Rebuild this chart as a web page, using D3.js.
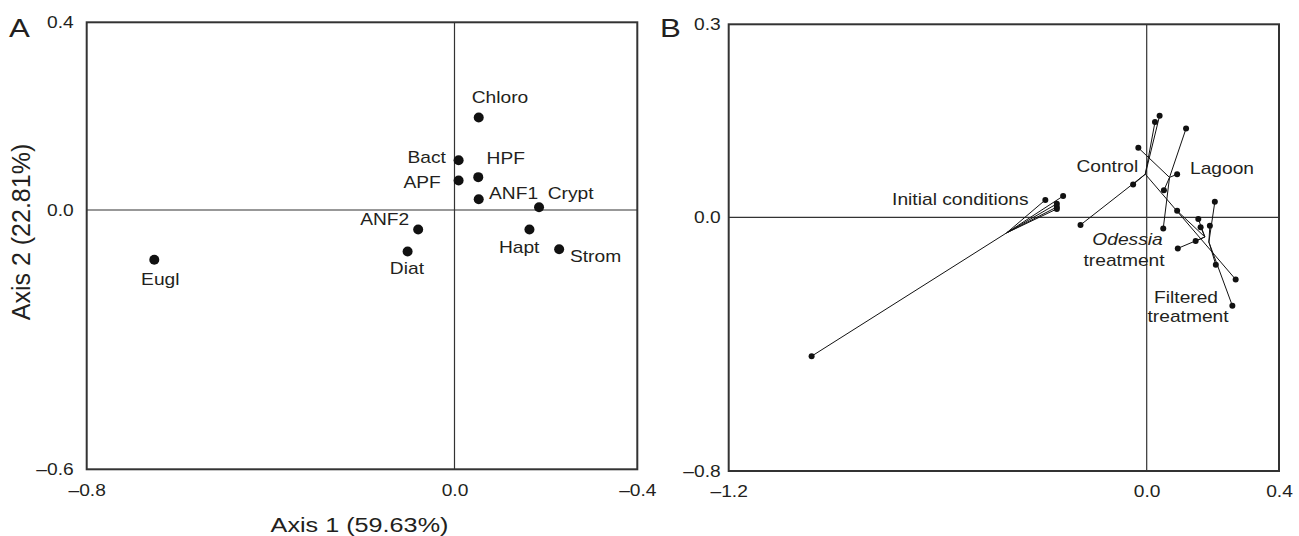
<!DOCTYPE html>
<html>
<head>
<meta charset="utf-8">
<script src="https://cdn.jsdelivr.net/npm/d3@7"></script>
<style>
html, body { margin: 0; padding: 0; background: #fff; }
svg { display: block; font-family: "Liberation Sans", Arial, Helvetica, sans-serif; }
</style>
</head>
<body>
<svg id="chart" width="1299" height="536"></svg>
<script>
// ---- panel A : taxa scores
const taxaA = ["Chloro", "Bact", "HPF", "APF", "ANF1", "Crypt", "ANF2", "Diat", "Hapt", "Strom", "Eugl"];
const axis1A = [0.053, 0.009, 0.052, 0.009, 0.053, 0.185, -0.079, -0.102, 0.164, 0.229, -0.653];
const axis2A = [0.197, 0.106, 0.070, 0.063, 0.023, 0.006, -0.045, -0.096, -0.045, -0.091, -0.115];
const xTicksA = [-0.8, 0, 0.4];
const xTickLabelsA = ["–0.8", "0.0", "–0.4"];
const yTicksA = [-0.6, 0, 0.4];
const yTickLabelsA = ["–0.6", "0.0", "0.4"];
const xTitleA = "Axis 1 (59.63%)";
const yTitleA = "Axis 2 (22.81%)";

// ---- panel B : samples, one spider per treatment (centroid + replicates)
const groupsB = ["Initial conditions", "Control", "Lagoon", "Odessia", "Filtered"];
const centroidX = [-0.402, -0.004, 0.069, 0.176, 0.188];
const centroidY = [-0.049, 0.067, 0.062, -0.062, -0.078];
const sampleX = [
    [-0.962, -0.291, -0.240, -0.258, -0.258, -0.258],
    [0.039, 0.025, -0.039, -0.190, 0.269],
    [0.119, 0.092, -0.024, 0.052, 0.050],
    [0.094, 0.148, 0.092, 0.156, 0.163],
    [0.206, 0.191, 0.209, 0.259]
];
const sampleY = [
    [-0.438, 0.027, 0.033, 0.021, 0.016, 0.013],
    [0.158, 0.148, 0.051, -0.024, -0.196],
    [0.138, 0.067, 0.108, 0.042, -0.035],
    [-0.098, -0.075, 0.010, -0.005, -0.031],
    [0.024, -0.027, -0.150, -0.279]
];
const xTicksB = [-1.2, 0, 0.4];
const xTickLabelsB = ["–1.2", "0.0", "0.4"];
const yTicksB = [-0.8, 0, 0.3];
const yTickLabelsB = ["–0.8", "0.0", "0.3"];

const INK = "#231f20";
const SX = 1.2; // lettering in the figure is drawn a bit wide

const svg = d3.select("#chart");

// the printed axes are not evenly spaced on both sides of zero, so piecewise scales
const xA = d3.scaleLinear().domain([-0.8, 0, 0.4]).range([86.7, 454.5, 637.3]);
const yA = d3.scaleLinear().domain([-0.6, 0, 0.4]).range([469.3, 210, 22.3]);
const xB = d3.scaleLinear().domain([-1.2, 0, 0.4]).range([728.7, 1146.7, 1279]);
const yB = d3.scaleLinear().domain([-0.8, 0, 0.3]).range([471, 217.3, 24.3]);

function stretched(sel, x, y) {
    return sel.attr("transform", `translate(${x},${y}) scale(${SX},1)`);
}

function frame(x, y, letter, letterX) {
    const g = svg.append("g");
    // zero lines
    g.append("line")
        .attr("x1", x(0)).attr("x2", x(0))
        .attr("y1", y.range()[2]).attr("y2", y.range()[0])
        .attr("stroke", "#333").attr("stroke-width", 1.2);
    g.append("line")
        .attr("x1", x.range()[0]).attr("x2", x.range()[2])
        .attr("y1", y(0)).attr("y2", y(0))
        .attr("stroke", "#333").attr("stroke-width", 1.2);
    g.append("rect")
        .attr("x", x.range()[0]).attr("y", y.range()[2])
        .attr("width", x.range()[2] - x.range()[0])
        .attr("height", y.range()[0] - y.range()[2])
        .attr("fill", "none").attr("stroke", "#333").attr("stroke-width", 2);
    stretched(g.append("text"), letterX, 36.7)
        .attr("font-size", 26).attr("fill", INK).text(letter);
}

function axes(x, y, xt, xl, yt, yl, ypad) {
    svg.append("g")
        .attr("transform", `translate(0,${y.range()[0]})`)
        .call(d3.axisBottom(x).tickValues(xt).tickSize(0).tickPadding(15).tickFormat((d, i) => xl[i]))
        .attr("font-size", null).attr("font-family", null)
        .call(g => g.select(".domain").remove())
        .selectAll("text")
        .attr("font-size", 16).attr("fill", INK)
        .attr("transform", `scale(${SX},1)`);

    svg.append("g")
        .attr("transform", `translate(${x.range()[0]},0)`)
        .call(d3.axisLeft(y).tickValues(yt).tickSize(0).tickPadding(0).tickFormat((d, i) => yl[i]))
        .attr("font-size", null).attr("font-family", null)
        .call(g => g.select(".domain").remove())
        .selectAll("text")
        .attr("font-size", 16).attr("fill", INK)
        .attr("x", -ypad / SX)
        .attr("transform", `scale(${SX},1)`);
}

// ---------------- panel A
frame(xA, yA, "A", 9);
axes(xA, yA, xTicksA, xTickLabelsA, yTicksA, yTickLabelsA, 13);

const placeA = {
    Chloro: [-7, -14.4, "start"], Bact: [-12.8, 3, "end"], HPF: [8.3, -12.7, "start"],
    APF: [-17.8, 7.4, "end"], ANF1: [10.3, 0, "start"], Crypt: [8.7, -8.3, "start"],
    ANF2: [-9, -4, "end"], Diat: [-0.7, 22.7, "middle"], Hapt: [-10.3, 24, "middle"],
    Strom: [10.8, 12.4, "start"], Eugl: [6, 25, "middle"]
};

const ptsA = taxaA.map((name, i) => ({ name, x: axis1A[i], y: axis2A[i] }));

svg.append("g")
    .selectAll("circle")
    .data(ptsA)
    .join("circle")
    .attr("cx", d => xA(d.x))
    .attr("cy", d => yA(d.y))
    .attr("r", 5)
    .attr("fill", "#111");

svg.append("g")
    .selectAll("text")
    .data(ptsA)
    .join("text")
    .attr("transform", d => `translate(${xA(d.x) + placeA[d.name][0]},${yA(d.y) + placeA[d.name][1]}) scale(${SX},1)`)
    .attr("text-anchor", d => placeA[d.name][2])
    .attr("font-size", 16)
    .attr("fill", INK)
    .text(d => d.name);

stretched(svg.append("text"), 359.5, 532)
    .attr("text-anchor", "middle").attr("font-size", 21).attr("fill", INK)
    .text(xTitleA);

svg.append("text")
    .attr("transform", "translate(30,232) rotate(-90)")
    .attr("text-anchor", "middle").attr("font-size", 25).attr("fill", INK)
    .text(yTitleA);

// ---------------- panel B
frame(xB, yB, "B", 660);
axes(xB, yB, xTicksB, xTickLabelsB, yTicksB, yTickLabelsB, 8);

const spokes = [];
const dotsB = [];
groupsB.forEach((grp, gi) => {
    sampleX[gi].forEach((sx, si) => {
        spokes.push({ x0: centroidX[gi], y0: centroidY[gi], x1: sx, y1: sampleY[gi][si] });
        dotsB.push({ grp, x: sx, y: sampleY[gi][si] });
    });
});

svg.append("g")
    .selectAll("line")
    .data(spokes)
    .join("line")
    .attr("x1", d => xB(d.x0)).attr("y1", d => yB(d.y0))
    .attr("x2", d => xB(d.x1)).attr("y2", d => yB(d.y1))
    .attr("stroke", "#111").attr("stroke-width", 1);

svg.append("g")
    .selectAll("circle")
    .data(dotsB)
    .join("circle")
    .attr("cx", d => xB(d.x))
    .attr("cy", d => yB(d.y))
    .attr("r", 3)
    .attr("fill", "#111");

// group labels, anchored in axis units
const labelsB = [
    { text: "Initial conditions", x: -0.339, y: 0.019, anchor: "end" },
    { text: "Control", x: -0.113, y: 0.071, anchor: "middle" },
    { text: "Lagoon", x: 0.131, y: 0.068, anchor: "start" },
    { text: "Odessia", x: -0.055, y: -0.087, anchor: "middle", italic: true },
    { text: "treatment", x: -0.065, y: -0.154, anchor: "middle" },
    { text: "Filtered", x: 0.119, y: -0.269, anchor: "middle" },
    { text: "treatment", x: 0.125, y: -0.330, anchor: "middle" }
];

svg.append("g")
    .selectAll("text")
    .data(labelsB)
    .join("text")
    .attr("transform", d => `translate(${xB(d.x)},${yB(d.y)}) scale(${SX},1)`)
    .attr("text-anchor", d => d.anchor)
    .attr("font-style", d => d.italic ? "italic" : null)
    .attr("font-size", 16)
    .attr("fill", INK)
    .text(d => d.text);
</script>
</body>
</html>
